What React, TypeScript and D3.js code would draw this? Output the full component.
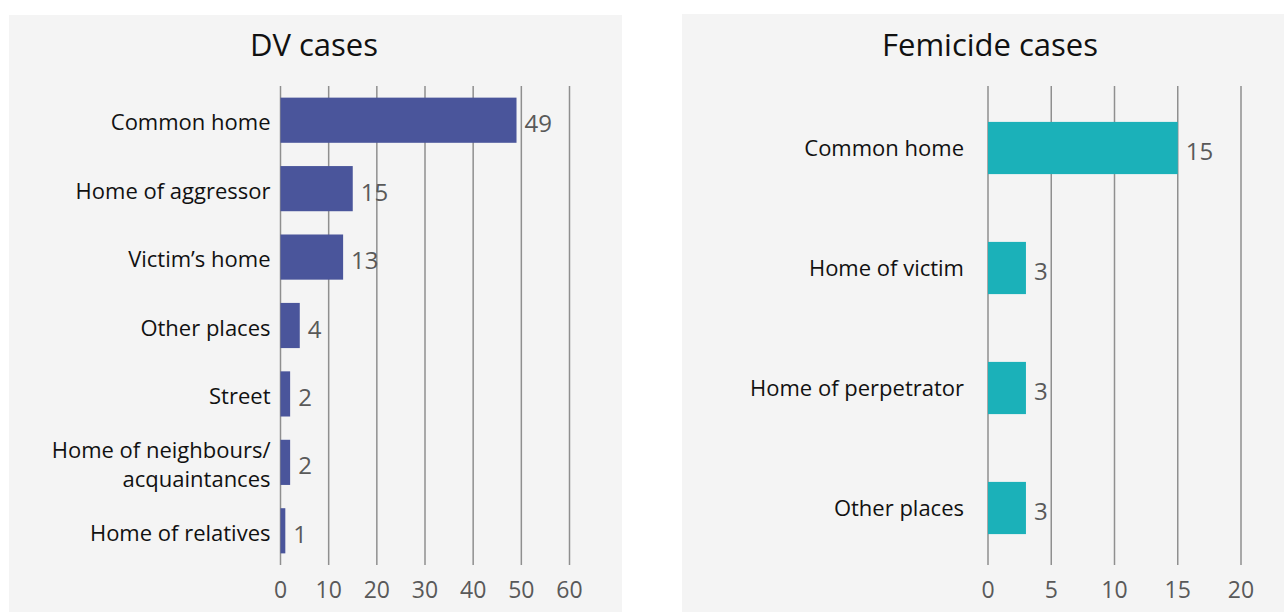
import React from "react";
import * as d3 from "d3";

const dvCategories = ["Common home", "Home of aggressor", "Victim’s home", "Other places", "Street", "Home of neighbours/\nacquaintances", "Home of relatives"];
const dvValues = [49, 15, 13, 4, 2, 2, 1];
const dvTicks = [0, 10, 20, 30, 40, 50, 60];

const femCategories = ["Common home", "Home of victim", "Home of perpetrator", "Other places"];
const femValues = [15, 3, 3, 3];
const femTicks = [0, 5, 10, 15, 20];

const FONT = "'Open Sans', sans-serif";

type PanelProps = {
  title: string;
  titleX: number;
  bg: [number, number, number, number];
  cats: string[];
  vals: number[];
  ticks: number[];
  x0: number;
  x1: number;
  yr: [number, number];
  labelGap: number;
  labelDy: number;
  color: string;
  padding: number;
};

function Panel({ title, titleX, bg, cats, vals, ticks, x0, x1, yr, labelGap, labelDy, color, padding }: PanelProps) {
  const top = 86;
  const bottom = 565;
  const x = d3.scaleLinear().domain([ticks[0], ticks[ticks.length - 1]]).range([x0, x1]);
  const y = d3.scaleBand<string>().domain(cats).range(yr).paddingInner(padding).paddingOuter(padding / 2);
  return (
    <g>
      <rect x={bg[0]} y={bg[1]} width={bg[2]} height={bg[3]} fill="#f4f4f4" />
      <text x={titleX} y={56} textAnchor="middle" fontSize={31} fill="#111" fontFamily={FONT}>{title}</text>
      {ticks.map((t) => (
        <g key={t}>
          <line x1={x(t)} x2={x(t)} y1={top} y2={bottom} stroke="#8f8f8f" strokeWidth={1.5} />
          <text x={x(t)} y={598} textAnchor="middle" fontSize={23} fill="#595959" fontFamily={FONT}>{t}</text>
        </g>
      ))}
      {cats.map((c, i) => {
        const yy = y(c)!;
        const cy = yy + y.bandwidth() / 2;
        const lines = c.split("\n");
        return (
          <g key={c}>
            <rect x={x(0)} y={yy} width={x(vals[i]) - x(0)} height={y.bandwidth()} fill={color} />
            <text x={x(vals[i]) + 8} y={cy + 12} fontSize={24} fill="#595959" fontFamily={FONT}>{vals[i]}</text>
            <text x={x0 - labelGap} y={cy + labelDy - (lines.length - 1) * 14.5} textAnchor="end" fontSize={22} fill="#111" fontFamily={FONT}>
              {lines.map((l, k) => (
                <tspan key={k} x={x0 - labelGap} dy={k === 0 ? 0 : 29}>{l}</tspan>
              ))}
            </text>
          </g>
        );
      })}
    </g>
  );
}

export default function App() {
  return (
    <svg width={1284} height={612} style={{ position: "absolute", left: 0, top: 0, background: "#fff" }}>
      <Panel title="DV cases" titleX={314} bg={[9, 15, 613, 597]} cats={dvCategories} vals={dvValues} ticks={dvTicks}
        x0={280.5} x1={569.5} yr={[86, 565]} labelGap={10} labelDy={10} color="#4a559b" padding={0.34} />
      <Panel title="Femicide cases" titleX={990} bg={[682, 14, 602, 598]} cats={femCategories} vals={femValues} ticks={femTicks}
        x0={988} x1={1241} yr={[88, 568]} labelGap={24} labelDy={8} color="#1bb1b9" padding={0.565} />
    </svg>
  );
}
